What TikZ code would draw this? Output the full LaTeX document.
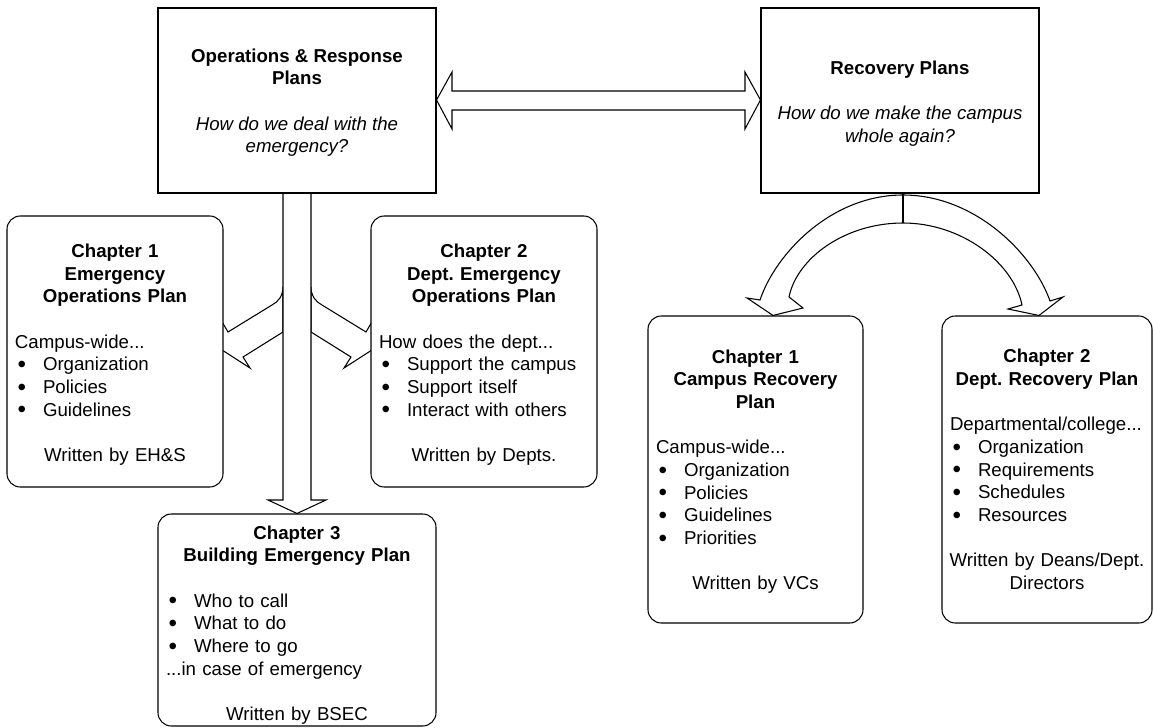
\documentclass[tikz,border=0pt]{standalone}
\usepackage{fontspec}
\usepackage{graphicx}
\setmainfont{Liberation Sans}
\frenchspacing
\pgfdeclarelayer{bg}
\pgfsetlayers{bg,main}
\newcommand{\lft}[1]{\makebox[\hsize][l]{#1}}
\newcommand{\bul}{\raisebox{-0.09em}{\scalebox{1.3}{\textbullet}}}
\newcommand{\bitem}[1]{\makebox[\hsize][l]{\hspace*{2pt}\makebox[19pt][l]{\bul}#1}}
\newcommand{\tstrut}[1]{\rule{0pt}{#1}}
\tikzset{
  plan/.style={draw, line width=0.8pt, fill=white, inner xsep=6pt, inner ysep=0pt,
    font=\fontsize{14pt}{17pt}\selectfont\frenchspacing, align=center},
  topbox/.style={plan, minimum width=208.5pt, minimum height=138.75pt},
  chbox/.style={plan, rounded corners=10pt},
  blockarrow/.style={draw, line width=0.8pt, fill=white, line join=miter},
  stemline/.style={draw, line width=0.8pt},
}
\begin{document}
\begin{tikzpicture}[x=0.75pt,y=-0.75pt]
\useasboundingbox (0,0) rectangle (1154,728);

% top boxes
\node[topbox] (or) at (297,100.5) {\tstrut{13.5pt}\textbf{Operations \& Response}\\\textbf{Plans}\\[17pt]\textit{How do we deal with the}\\\textit{emergency?}};
\node[topbox] (rp) at (900,100.5) {\tstrut{15pt}\textbf{Recovery Plans}\\[17pt]\textit{How do we make the campus}\\\textit{whole again?}};

% chapter boxes
\node[chbox, text width=150pt, minimum height=203.25pt] (eop) at (115,351.5) {%
\tstrut{15pt}\textbf{Chapter 1}\\\textbf{Emergency}\\\textbf{Operations Plan}\\[17pt]
\lft{Campus-wide...}\\\bitem{Organization}\\\bitem{Policies}\\\bitem{Guidelines}\\[17pt]
Written by EH\&S};

\node[chbox, text width=157.5pt, minimum height=203.25pt] (deop) at (484,351.5) {%
\tstrut{15pt}\textbf{Chapter 2}\\\textbf{Dept. Emergency}\\\textbf{Operations Plan}\\[17pt]
\lft{How does the dept...}\\\bitem{Support the campus}\\\bitem{Support itself}\\\bitem{Interact with others}\\[17pt]
Written by Depts.};

\node[chbox, text width=196.5pt, minimum height=159pt] (bep) at (297,620) {%
\tstrut{17.5pt}\textbf{Chapter 3}\\\textbf{Building Emergency Plan}\\[17pt]
\bitem{Who to call}\\\bitem{What to do}\\\bitem{Where to go}\\\lft{...in case of emergency}\\[17pt]
Written by BSEC};

\node[chbox, text width=149.25pt, minimum height=230.25pt] (crp) at (755.5,469.5) {%
\tstrut{13.5pt}\textbf{Chapter 1}\\\textbf{Campus Recovery}\\\textbf{Plan}\\[17pt]
\lft{Campus-wide...}\\\bitem{Organization}\\\bitem{Policies}\\\bitem{Guidelines}\\\bitem{Priorities}\\[17pt]
Written by VCs};

\node[chbox, text width=145.5pt, minimum height=230.25pt] (drp) at (1047,469.5) {%
\textbf{Chapter 2}\\\textbf{Dept. Recovery Plan}\\[17pt]
\lft{Departmental/college...}\\\bitem{Organization}\\\bitem{Requirements}\\\bitem{Schedules}\\\bitem{Resources}\\[17pt]
\makebox[\hsize]{Written by Deans/Dept.}\\Directors};

\begin{pgfonlayer}{bg}
% double arrow between top boxes
\path[blockarrow] (or.east |- 0,100) -- (452,72) -- (452,91) -- (745,91) -- (745,72)
  -- (rp.west |- 0,100) -- (745,129) -- (745,110) -- (452,110) -- (452,129) -- cycle;

% branch arrows from the vertical shaft
\path[blockarrow] (283,287) .. controls (283,296) and (278,302) .. (272,305) -- (228,332)
  -- (221,320) -- (205,339) -- (250,368) -- (243,357) -- (283,332) -- cycle;
\path[blockarrow] (311,287) .. controls (311,296) and (316,302) .. (322,305) -- (366,332)
  -- (373,320) -- (389,339) -- (344,368) -- (351,357) -- (311,332) -- cycle;

% vertical shaft
\path[blockarrow] (283,193) -- (283,500) -- (268,500) -- (bep.north) -- (326,500)
  -- (311,500) -- (311,193) -- cycle;

% recovery arch arrows
\path[blockarrow] (903,195) .. controls (830,195) and (775,255) .. (760,300)
  -- (747,298) -- (crp.north -| 773,0) -- (803,308) -- (789,297)
  .. controls (797,258) and (845,223) .. (903,223)
  .. controls (961,223) and (1013,262) .. (1022,305)
  -- (1008,309) -- (drp.north -| 1039,0) -- (1063,297) -- (1050,301)
  .. controls (1034,255) and (976,195) .. (903,195) -- cycle;
\end{pgfonlayer}
\coordinate (stemtop) at (903,193);
\coordinate (stembot) at (903,223);
\draw[stemline] (stemtop) -- (stembot);
\end{tikzpicture}
\end{document}
